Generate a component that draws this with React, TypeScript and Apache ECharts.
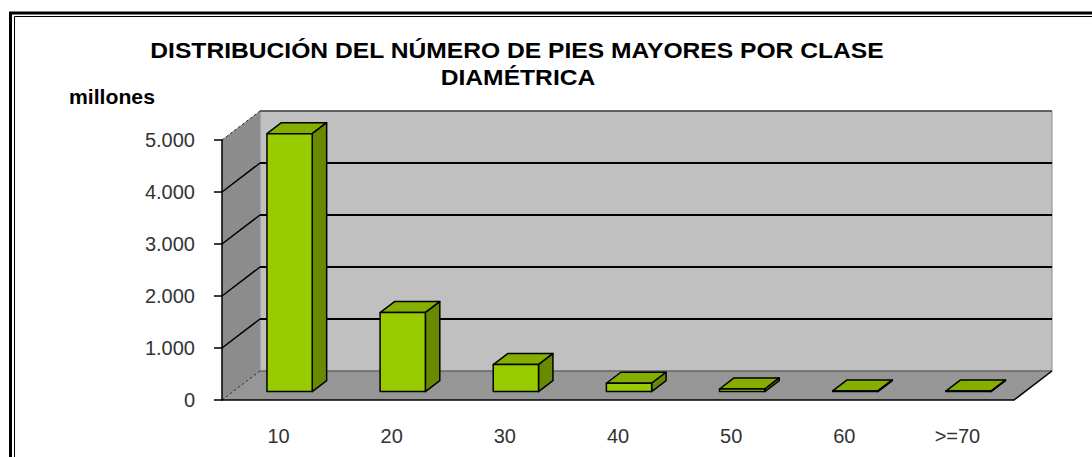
import React, { useEffect, useRef } from 'react';
import * as echarts from 'echarts';

const categories = ['10', '20', '30', '40', '50', '60', '>=70'];
const values = [4960, 1520, 520, 160, 50, 12, 10];
const yTicks = [0, 1000, 2000, 3000, 4000, 5000];
const titleLines = ['DISTRIBUCIÓN DEL NÚMERO DE PIES MAYORES POR CLASE', 'DIAMÉTRICA'];
const unitLabel = 'millones';

const DX = 38;
const DY = -29;
const F0 = 0.29;
const F1 = 0.67;
const BAR_FRAC = 0.4;
const FONT = '"Liberation Sans", Arial, sans-serif';

const fmt = (v: number) => String(v).replace(/\B(?=(\d{3})+(?!\d))/g, '.');

export default function App() {
  const ref = useRef<HTMLDivElement>(null);
  useEffect(() => {
    const chart = echarts.init(ref.current!, null, { renderer: 'svg' });
    const yMax = yTicks[yTicks.length - 1];

    const wallsRender = (params: any, api: any) => {
      const cs = params.coordSys;
      const x0 = cs.x;
      const x1 = cs.x + cs.width;
      const yB = api.coord([0, 0])[1];
      const yT = api.coord([0, yMax])[1];
      const children: any[] = [];
      children.push({
        type: 'polygon',
        shape: { points: [[x0, yB], [x1, yB], [x1 + DX, yB + DY], [x0 + DX, yB + DY]] },
        style: { fill: '#969696', stroke: null },
      });
      children.push({
        type: 'rect',
        shape: { x: x0 + DX, y: yT + DY, width: x1 - x0, height: yB - yT },
        style: { fill: '#c0c0c0', stroke: '#8a8a8a', lineWidth: 1 },
      });
      children.push({
        type: 'polygon',
        shape: { points: [[x0, yT], [x0 + DX, yT + DY], [x0 + DX, yB + DY], [x0, yB]] },
        style: { fill: '#8c8c8c', stroke: null },
      });
      yTicks.forEach((v) => {
        const y = api.coord([0, v])[1];
        if (v > 0 && v < yMax) {
          children.push({
            type: 'line',
            shape: { x1: x0 + DX, y1: y + DY, x2: x1 + DX, y2: y + DY },
            style: { stroke: '#000', lineWidth: 2 },
          });
          children.push({
            type: 'line',
            shape: { x1: x0, y1: y, x2: x0 + DX, y2: y + DY },
            style: { stroke: '#000', lineWidth: 1.5 },
          });
        } else {
          children.push({
            type: 'line',
            shape: { x1: x0, y1: y, x2: x0 + DX, y2: y + DY },
            style: { stroke: '#333', lineWidth: 1, lineDash: [3, 2] },
          });
        }
      });
      children.push({
        type: 'line',
        shape: { x1: x0 + DX, y1: yT + DY, x2: x1 + DX, y2: yT + DY },
        style: { stroke: '#444', lineWidth: 1.5 },
      });
      children.push({
        type: 'line',
        shape: { x1: x0 + DX, y1: yB + DY, x2: x1 + DX, y2: yB + DY },
        style: { stroke: '#555', lineWidth: 1 },
      });
      children.push({
        type: 'line',
        shape: { x1: x1, y1: yB, x2: x1 + DX, y2: yB + DY },
        style: { stroke: '#000', lineWidth: 1.5 },
      });
      return { type: 'group', children };
    };

    const barsRender = (params: any, api: any) => {
      const i = api.value(0);
      const v = api.value(1);
      const top = api.coord([i, v]);
      const base = api.coord([i, 0]);
      const bw = api.size([1, 0])[0] * BAR_FRAC;
      const ox = F0 * DX;
      const oy = F0 * DY;
      const dx = (F1 - F0) * DX;
      const dy = (F1 - F0) * DY;
      const L = top[0] - bw / 2 + ox;
      const R = top[0] + bw / 2 + ox;
      const T = top[1] + oy;
      const B = base[1] + oy;
      const st = { stroke: '#000', lineWidth: 1.5, lineJoin: 'round' };
      return {
        type: 'group',
        children: [
          {
            type: 'polygon',
            shape: { points: [[L, T], [R, T], [R + dx, T + dy], [L + dx, T + dy]] },
            style: { ...st, fill: '#84ae00' },
          },
          {
            type: 'polygon',
            shape: { points: [[R, T], [R + dx, T + dy], [R + dx, B + dy], [R, B]] },
            style: { ...st, fill: '#678a00' },
          },
          {
            type: 'rect',
            shape: { x: L, y: T, width: R - L, height: B - T },
            style: { ...st, fill: '#99cc00' },
          },
        ],
      };
    };

    chart.setOption({
      animation: false,
      backgroundColor: '#ffffff',
      grid: { left: 222, right: 78, top: 140, bottom: 57 },
      xAxis: {
        type: 'category',
        data: categories,
        boundaryGap: true,
        z: 10,
        axisLine: { lineStyle: { color: '#000', width: 1.5 } },
        axisTick: { length: 8, lineStyle: { color: '#000', width: 1.5 } },
        axisLabel: { interval: 0, margin: 26, fontSize: 20, color: '#333', fontFamily: FONT },
        splitLine: { show: false },
      },
      yAxis: {
        type: 'value',
        min: 0,
        max: yMax,
        interval: 1000,
        z: 10,
        axisLine: { show: true, lineStyle: { color: '#000', width: 1.5 } },
        axisTick: { show: true, length: 8, lineStyle: { color: '#000', width: 1.5 } },
        axisLabel: { margin: 27, fontSize: 20, color: '#333', fontFamily: FONT, formatter: (v: number) => fmt(v) },
        splitLine: { show: false },
      },
      series: [
        { type: 'custom', z: 1, silent: true, renderItem: wallsRender, data: [[0, 0]] },
        { type: 'custom', z: 2, renderItem: barsRender, data: values.map((v, i) => [i, v]) },
      ],
      graphic: [
        { type: 'rect', shape: { x: 10.5, y: 13, width: 1200, height: 600 }, style: { fill: 'transparent', stroke: '#000', lineWidth: 3 }, silent: true },
        { type: 'rect', shape: { x: 14.5, y: 16.5, width: 1200, height: 600 }, style: { fill: 'transparent', stroke: '#000', lineWidth: 1 }, silent: true },
        {
          type: 'text', x: 517, y: 50.5, scaleX: 1.12,
          style: { text: titleLines[0], align: 'center', verticalAlign: 'middle', textAlign: 'center', textVerticalAlign: 'middle', font: `bold 22px ${FONT}`, fill: '#000' },
        },
        {
          type: 'text', x: 518, y: 77, scaleX: 1.12,
          style: { text: titleLines[1], align: 'center', verticalAlign: 'middle', textAlign: 'center', textVerticalAlign: 'middle', font: `bold 22px ${FONT}`, fill: '#000' },
        },
        {
          type: 'text', x: 69, y: 97, scaleX: 1.06,
          style: { text: unitLabel, align: 'left', verticalAlign: 'middle', textAlign: 'left', textVerticalAlign: 'middle', font: `bold 20px ${FONT}`, fill: '#000' },
        },
      ],
    });
    return () => chart.dispose();
  }, []);
  return <div ref={ref} style={{ position: 'fixed', left: 0, top: 0, width: 1092, height: 457, background: '#fff' }} />;
}
